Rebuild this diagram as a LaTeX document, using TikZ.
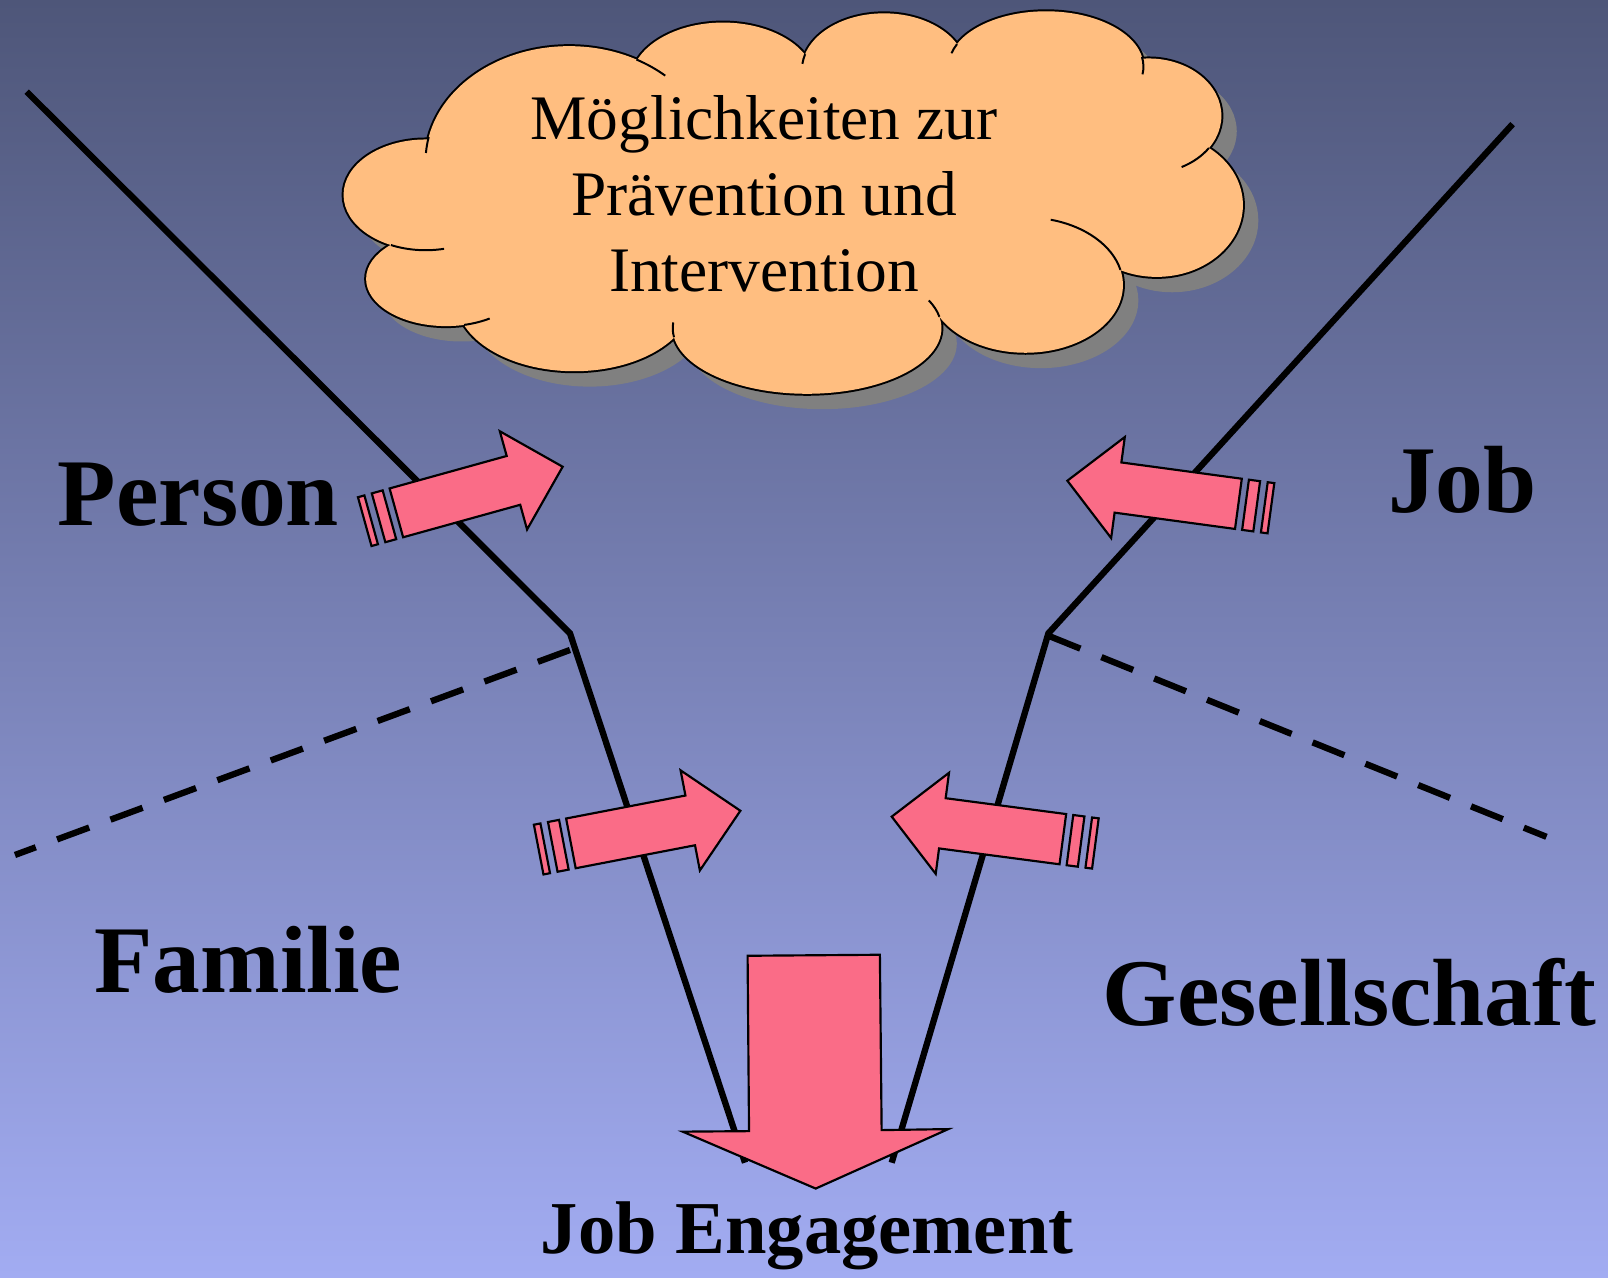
\documentclass[tikz,border=0pt]{standalone}
\usepackage{fontspec}
\setmainfont{Liberation Serif}
\usetikzlibrary{positioning}

\definecolor{bgtop}{RGB}{78,86,121}
\definecolor{bgbottom}{RGB}{162,172,242}
\definecolor{cloudfill}{RGB}{255,190,128}
\definecolor{cloudshadow}{RGB}{128,128,128}
\definecolor{arrowfill}{RGB}{250,108,135}

\begin{document}
\begin{tikzpicture}[x=0.1mm, y=0.1mm, yscale=-1,
  frontier/.style={line width=1.75pt},
  border/.style={line width=1.75pt, dash pattern=on 9.5pt off 6.3pt},
  arrowbody/.style={draw=black, line width=0.6pt, fill=arrowfill},
  cloudline/.style={line width=0.55pt},
  fieldlabel/.style={font=\fontsize{26.5}{30}\selectfont\bfseries, anchor=base},
  stripedarrow/.pic={
    \draw[arrowbody] (0,-24.7) -- (118.5,-24.7) -- (118.5,-49.7) -- (168.3,0)
      -- (118.5,49.7) -- (118.5,24.7) -- (0,24.7) -- cycle;
    \draw[arrowbody] (-18,-24.7) rectangle (-7,24.7);
    \draw[arrowbody] (-32,-24.7) rectangle (-25.5,24.7);
  }]
\useasboundingbox (0,0) rectangle (1568,1246);
\shade[top color=bgtop, bottom color=bgbottom] (0,0) rectangle (1568,1246);

% the funnel
\coordinate (ltop) at (26,89.4);
\coordinate (lbend) at (555.8,617.6);
\coordinate (lfoot) at (726.5,1133.8);
\coordinate (rtop) at (1475,121);
\coordinate (rbend) at (1022.3,617.6);
\coordinate (rfoot) at (869.5,1133.8);
\coordinate (lsplit) at (555.8,633.8);
\coordinate (lend) at (14.6,833.7);
\coordinate (rsplit) at (1022.5,620);
\coordinate (rend) at (1508,816);
\draw[frontier] (ltop) -- (lbend) -- (lfoot);
\draw[frontier] (rtop) -- (rbend) -- (rfoot);
\draw[border] (lsplit) -- (lend);
\draw[border] (rsplit) -- (rend);

% cloud
\def\puffs{415/190/80/54, 435/272/78/46, 560/292/115/70, 787/320/131/64,
  1000/278/95/66, 1128/200/84/70, 1120/113/71/56, 1020/65/95/54,
  862/68/80/55, 705/80/90/58, 555/157/140/112}
\def\core{(415,190) -- (435,272) -- (560,292) -- (787,320) -- (1000,278)
  -- (1128,200) -- (1120,113) -- (1020,65) -- (862,68) -- (705,80) -- (555,157) -- cycle}
\begin{scope}[shift={(15,15)}]
  \foreach \cx/\cy/\rx/\ry in \puffs
    \fill[cloudshadow] (\cx,\cy) ellipse [x radius=\rx, y radius=\ry];
  \fill[cloudshadow] \core;
\end{scope}
\foreach \cx/\cy/\rx/\ry in \puffs
  \draw[line width=1.1pt] (\cx,\cy) ellipse [x radius=\rx, y radius=\ry];
\foreach \cx/\cy/\rx/\ry in \puffs
  \fill[cloudfill] (\cx,\cy) ellipse [x radius=\rx, y radius=\ry];
\fill[cloudfill] \core;
\foreach \cx/\cy/\rx/\ry/\s/\e in {555/157/140/112/192/184, 415/190/80/54/115/77,
    435/272/78/46/77/57, 787/320/131/64/172/185, 787/320/131/64/-10/-25,
    1000/278/95/66/-13/-75, 1120/113/71/56/34/63, 1020/65/95/54/-10/8,
    1020/65/95/54/204/194, 862/68/80/55/196/186, 555/157/140/112/-62/-48}
  \draw[cloudline] ([shift={(\s:{\rx} and {\ry})}]\cx,\cy)
    arc [start angle=\s, end angle=\e, x radius=\rx, y radius=\ry];
\node[font=\fontsize{17.6}{21.2}\selectfont, align=center] (ideas) at (745,189)
  {Möglichkeiten zur\\Prävention und\\Intervention};

% influences
\pic[rotate=15.5] at (386.5,500.1) {stripedarrow};
\pic[rotate=172.3] at (1207.6,491.3) {stripedarrow};
\pic[rotate=10.9] at (556.7,822.4) {stripedarrow};
\pic[rotate=172.5] at (1036.4,818.3) {stripedarrow};
\draw[arrowbody] (729,932) -- (858,931) -- (859.7,1102) -- (924.7,1101)
  -- (795.4,1159) -- (665.7,1103.5) -- (730.4,1103) -- cycle;

\node[fieldlabel] (person) at (193.5,512) {Person};
\node[fieldlabel] (job) at (1426,500) {Job};
\node[fieldlabel] (familie) at (242,968) {Familie};
\node[fieldlabel] (gesellschaft) at (1316,1000) {Gesellschaft};
\node[fieldlabel, font=\fontsize{20.7}{24}\selectfont\bfseries] (engagement) at (787,1222) {Job Engagement};
\end{tikzpicture}
\end{document}
